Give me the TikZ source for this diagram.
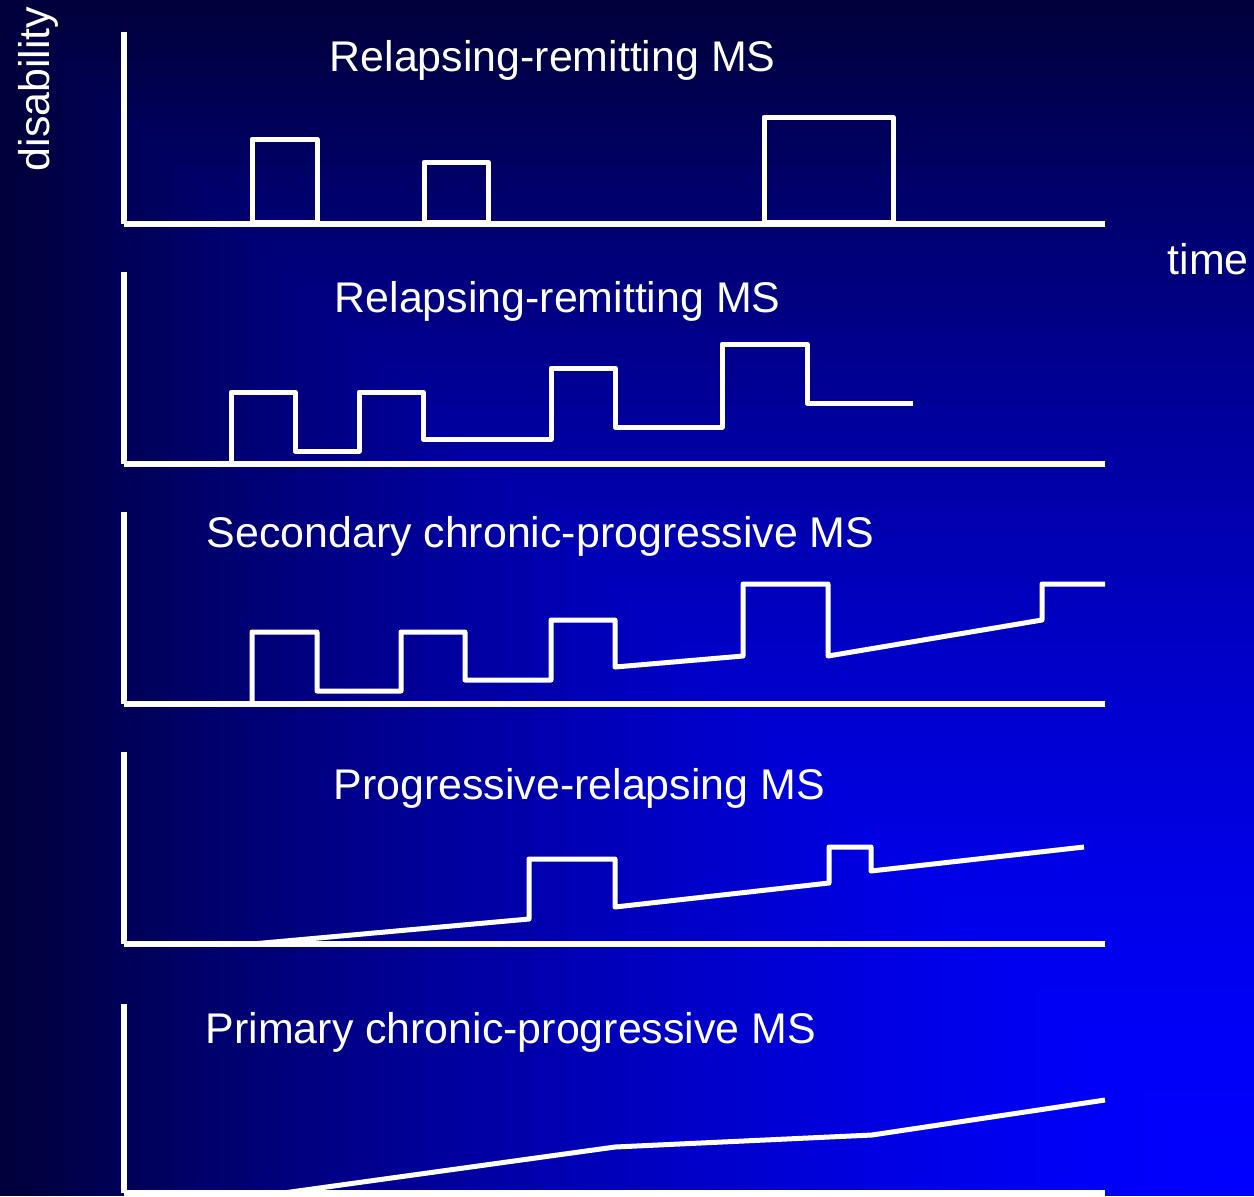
\documentclass[tikz,border=0pt]{standalone}
\usepackage{fontspec}
\setmainfont{Liberation Sans}
\usepackage{tikz}

\begin{document}
\begin{tikzpicture}[
		x=0.01cm,
		y=-0.01cm,
		font=\fontsize{12.2}{14}\selectfont,
		axis/.style={
			draw=white,
			line width=0.06cm
		},
		course/.style={
			draw=white,
			line width=0.05cm,
			line join=round
		},
		title/.style={
			text=white,
			anchor=base west,
			inner sep=0pt
		}
		]
		\useasboundingbox (0,0) rectangle (1254,1196);
		
		% background, dark at the upper left and bright at the lower right corner
		\foreach \i in {80,79,...,1}{
			\pgfmathtruncatemacro{\shadeblue}{255-195*(\i/80)^1.6}
			\definecolor{bgstep}{RGB}{0,0,\shadeblue}
			\fill[bgstep] ({1254*(1-\i/80)},{1196*(1-\i/80)}) rectangle (1254,1196);
		}
		
		% axes of the five panels
		\foreach \axtop/\axbot in {32/224, 272/464, 512/704, 752/944, 1004/1193}{
			\draw[axis] (124,\axtop) -- (124,\axbot);
			\draw[axis] (124,\axbot) -- (1105,\axbot);
		}
		
		\node[title, rotate=90] (disab) at (50,172) {disability};
		\node[title] (time) at (1167,274) {time};
		
		\node[title] (rr1) at (329,71) {Relapsing-remitting MS};
		\node[title] (rr2) at (334,312) {Relapsing-remitting MS};
		\node[title] (scp) at (206,547) {Secondary chronic-progressive MS};
		\node[title] (pr) at (333,799) {Progressive-relapsing MS};
		\node[title] (pcp) at (205,1043) {Primary chronic-progressive MS};
		
		% the courses
		\draw[course] (252,222) rectangle (317,139);
		\draw[course] (424,222) rectangle (488,162);
		\draw[course] (764,222) rectangle (893,117);
		
		\draw[course] (231,464) |- (295,392) |- (359,451) |- (423,392) |- (551,439) |- (615,368) |- (722,427) |- (807,344) |- (913,403);
		
		\draw[course] (252,704) |- (317,632) |- (401,691) |- (465,632) |- (551,680) |- (615,620) -- (615,667) -- (743,656) |- (828,584) -- (828,656) -- (1042,620) |- (1105,584);
		
		\draw[course] (252,944) -- (529,919) |- (615,859) -- (615,907) -- (829,883) |- (871,847) -- (871,871) -- (1084,847);
		
		\draw[course] (240,1199) -- (615,1147) -- (872,1135) -- (1105,1100);
		
\end{tikzpicture}
\end{document}
